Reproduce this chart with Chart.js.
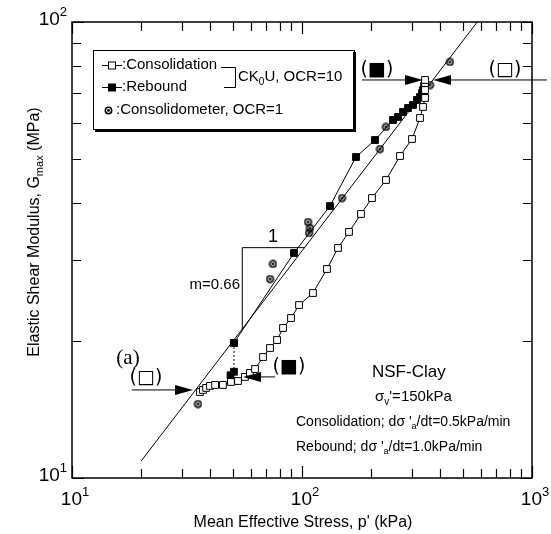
<!DOCTYPE html>
<html>
<head>
<meta charset="utf-8">
<script src="https://cdn.jsdelivr.net/npm/chart.js@4.4.1/dist/chart.umd.min.js"></script>
<style>
  html, body { margin: 0; padding: 0; background: #fff; }
</style>
</head>
<body>
<canvas id="gmaxChart" width="551" height="534"></canvas>
<script>
// ── data (p' in kPa, Gmax in MPa) ──────────────────────────────────────────
const consP = [36.0, 37.1, 38.3, 39.8, 41.9, 45.3, 49.1, 52.7, 56.5, 59.4, 62.5, 67.7, 72.6, 77.9, 82.7, 89.6, 97.1,
               111.6, 128.4, 143.4, 160.1, 180.5, 201.5, 231.8, 266.8, 300.8, 325.9, 335.9, 342.7, 342.7, 342.7, 342.7];
const consG = [15.44, 15.60, 15.76, 15.92, 16.0, 16.0, 16.24, 16.32, 16.66, 17.0, 17.34, 18.42, 19.28, 20.07, 21.33, 22.43, 23.95,
               25.45, 28.73, 31.95, 34.64, 37.93, 41.11, 45.03, 50.83, 55.39, 61.59, 65.11, 68.14, 70.93, 73.49, 74.62];

const rebP = [342.7, 339.3, 335.9, 332.5, 325.9, 316.2, 303.8, 289.0, 274.9, 261.5, 248.7, 207.7, 171.7, 132.3, 92.3, 50.6];
const rebG = [73.86, 72.38, 70.93, 69.89, 68.48, 67.45, 65.77, 64.77, 63.48, 61.91, 60.97, 55.11, 50.57, 39.49, 31.15, 19.78];

const rebTailP = [50.6, 50.6, 48.9];
const rebTailG = [19.78, 17.1, 16.8];

const meterP = [35.3, 72.6, 74.8, 106.2, 108.3, 107.3, 149.3, 218.3, 231.8, 360.2, 440.0];
const meterG = [14.53, 27.31, 29.47, 36.42, 35.33, 34.46, 41.11, 52.66, 58.86, 72.75, 81.73];

// fitted line, slope m = 0.66, and its slope triangle
const fitP = [20, 578];
const fitG = [10.9, 100];
const slopeP = [55, 55, 103];
const slopeG = [21.2, 32, 32];

// axes
const xTicks = [10, 20, 30, 40, 50, 60, 70, 80, 90, 100, 200, 300, 400, 500, 600, 700, 800, 900, 1000];
const yTicks = [10, 20, 30, 40, 50, 60, 70, 80, 90, 100];
const xDecades = [10, 100, 1000];
const xExp = ['1', '2', '3'];
const yDecades = [10, 100];
const yExp = ['1', '2'];

// arrows: [tailP, tipP, G]
const ARROWS = [
  [18.2, 33.6, 15.6],
  [182.4, 335.9, 74.62],
  [1161, 371.2, 74.62],
  [76.3, 55.4, 16.66],
];

const FONT = '"Liberation Sans", Arial, sans-serif';

// ── helpers ────────────────────────────────────────────────────────────────
function pts(P, G) {
  return P.map((p, i) => ({ x: p, y: G[i] }));
}

function makeRing(size) {
  const c = document.createElement('canvas');
  c.width = c.height = size;
  const g = c.getContext('2d');
  g.strokeStyle = '#000';
  g.lineWidth = 1.5;
  g.beginPath(); g.arc(size / 2, size / 2, size / 2 - 1.3, 0, Math.PI * 2); g.stroke();
  g.fillStyle = '#000';
  g.beginPath(); g.arc(size / 2, size / 2, 1.4, 0, Math.PI * 2); g.fill();
  return c;
}
const RING = makeRing(9);

// draw text made of segments: [text, 'n' | 'sub' | 'sup']
function rich(ctx, segs, x, y, size, align, family) {
  family = family || FONT;
  const parts = segs.map(([t, m]) => {
    const s = m === 'n' ? size : Math.round(size * 0.66);
    ctx.font = s + 'px ' + family;
    return { t, m, s, w: ctx.measureText(t).width };
  });
  const total = parts.reduce((a, p) => a + p.w, 0);
  let cx = align === 'center' ? x - total / 2 : align === 'right' ? x - total : x;
  ctx.textAlign = 'left';
  ctx.textBaseline = 'middle';
  parts.forEach(p => {
    ctx.font = p.s + 'px ' + family;
    const dy = p.m === 'sub' ? size * 0.32 : p.m === 'sup' ? -size * 0.42 : 0;
    ctx.fillText(p.t, cx, y + dy);
    cx += p.w;
  });
}

function arrow(ctx, x1, y1, x2, y2) {
  const a = Math.atan2(y2 - y1, x2 - x1);
  const L = 18, W = 5;
  ctx.beginPath();
  ctx.moveTo(x1, y1);
  ctx.lineTo(x2 - L * Math.cos(a), y2 - L * Math.sin(a));
  ctx.stroke();
  ctx.beginPath();
  ctx.moveTo(x2, y2);
  ctx.lineTo(x2 - L * Math.cos(a) + W * Math.sin(a), y2 - L * Math.sin(a) - W * Math.cos(a));
  ctx.lineTo(x2 - L * Math.cos(a) - W * Math.sin(a), y2 - L * Math.sin(a) + W * Math.cos(a));
  ctx.closePath();
  ctx.fill();
}

// ── frame, ticks, labels, annotations ──────────────────────────────────────
const decorPlugin = {
  id: 'decor',
  afterDraw(chart) {
    const ctx = chart.ctx;
    const { left, right, top, bottom } = chart.chartArea;
    const xs = chart.scales.x, ys = chart.scales.y;
    ctx.save();
    ctx.strokeStyle = '#000';
    ctx.fillStyle = '#000';

    // frame
    ctx.lineWidth = 1.5;
    ctx.strokeRect(left, top, right - left, bottom - top);

    // inward ticks on all four sides
    ctx.lineWidth = 1.2;
    ctx.beginPath();
    xTicks.forEach(v => {
      const x = Math.round(xs.getPixelForValue(v)) + 0.5;
      const len = xDecades.includes(v) ? 12 : 9;
      ctx.moveTo(x, bottom); ctx.lineTo(x, bottom - len);
      ctx.moveTo(x, top); ctx.lineTo(x, top + len);
    });
    yTicks.forEach(v => {
      const y = Math.round(ys.getPixelForValue(v)) + 0.5;
      const len = yDecades.includes(v) ? 12 : 9;
      ctx.moveTo(left, y); ctx.lineTo(left + len, y);
      ctx.moveTo(right, y); ctx.lineTo(right - len, y);
    });
    ctx.stroke();

    // tick labels
    xDecades.forEach((v, i) => {
      rich(ctx, [['10', 'n'], [xExp[i], 'sup']], xs.getPixelForValue(v) + 3, bottom + 22, 19, 'center');
    });
    yDecades.forEach((v, i) => {
      rich(ctx, [['10', 'n'], [yExp[i], 'sup']], left - 5, ys.getPixelForValue(v) - 2, 19, 'right');
    });

    // axis titles
    rich(ctx, [["Mean Effective Stress, p' (kPa)", 'n']], 303, 523, 16, 'center');
    ctx.save();
    ctx.translate(35, 232);
    ctx.rotate(-Math.PI / 2);
    rich(ctx, [['Elastic Shear Modulus, G', 'n'], ['max', 'sub'], [' (MPa)', 'n']], 0, 0, 16, 'center');
    ctx.restore();

    // arrows
    ctx.lineWidth = 1;
    ARROWS.forEach(([p1, p2, g]) => {
      const y = ys.getPixelForValue(g);
      arrow(ctx, xs.getPixelForValue(p1), y, xs.getPixelForValue(p2), y);
    });

    // arrow labels
    const sym = '"DejaVu Sans", sans-serif';
    rich(ctx, [['(□)', 'n']], 146, 378, 19, 'center', sym);
    rich(ctx, [['(■)', 'n']], 377, 70, 19, 'center', sym);
    rich(ctx, [['(□)', 'n']], 505, 70, 19, 'center', sym);
    rich(ctx, [['(■)', 'n']], 289, 367, 19, 'center', sym);
    rich(ctx, [['(a)', 'n']], 128, 358, 21, 'center', '"Liberation Serif", "Times New Roman", serif');

    // slope labels
    rich(ctx, [['1', 'n']], 273, 237, 18, 'center');
    rich(ctx, [['m=0.66', 'n']], 240, 285, 15, 'right');

    // test conditions
    rich(ctx, [['NSF-Clay', 'n']], 372, 372, 17, 'left');
    rich(ctx, [['σ', 'n'], ['v', 'sub'], ["'=150kPa", 'n']], 375, 397, 15, 'left');
    rich(ctx, [['Consolidation; d', 'n'], ['σ', 'n'], [" '", 'n'], ['a', 'sub'], ['/dt=0.5kPa/min', 'n']], 296, 422, 14, 'left');
    rich(ctx, [['Rebound; d', 'n'], ['σ', 'n'], [" '", 'n'], ['a', 'sub'], ['/dt=1.0kPa/min', 'n']], 296, 447, 14, 'left');

    // legend box with drop shadow
    ctx.fillStyle = '#fff';
    ctx.fillRect(93, 50, 262, 80);
    ctx.fillStyle = '#000';
    ctx.fillRect(353, 52, 3, 80);
    ctx.fillRect(95, 129, 261, 3);
    ctx.lineWidth = 1;
    ctx.strokeRect(93.5, 50.5, 261, 79);

    // legend entries
    ctx.beginPath();
    ctx.moveTo(102, 65.5); ctx.lineTo(122, 65.5);
    ctx.moveTo(102, 87.5); ctx.lineTo(122, 87.5);
    ctx.stroke();
    ctx.fillStyle = '#fff';
    ctx.fillRect(108.5, 62, 7, 7);
    ctx.strokeRect(108.5, 62, 7, 7);
    ctx.fillStyle = '#000';
    ctx.fillRect(108, 83.5, 8, 8);
    ctx.drawImage(RING, 104, 106);
    rich(ctx, [[':Consolidation', 'n']], 122, 65, 15, 'left');
    rich(ctx, [[':Rebound', 'n']], 122, 87, 15, 'left');
    rich(ctx, [[':Consolidometer, OCR=1', 'n']], 116, 110, 15, 'left');

    // bracket for CK0U
    ctx.beginPath();
    ctx.moveTo(221, 67.5); ctx.lineTo(235.5, 67.5); ctx.lineTo(235.5, 87.5); ctx.lineTo(224, 87.5);
    ctx.stroke();
    rich(ctx, [['CK', 'n'], ['0', 'sub'], ['U, OCR=10', 'n']], 238, 77, 15, 'left');

    ctx.restore();
  }
};

// ── chart ──────────────────────────────────────────────────────────────────
const ctx = document.getElementById('gmaxChart').getContext('2d');
new Chart(ctx, {
  type: 'scatter',
  data: {
    datasets: [
      {
        label: 'Consolidation',
        data: pts(consP, consG),
        showLine: true,
        borderColor: '#000',
        borderWidth: 1,
        pointStyle: 'rect',
        pointRadius: 4.8,
        pointBackgroundColor: '#fff',
        pointBorderColor: '#000',
        pointBorderWidth: 1,
      },
      {
        label: 'Rebound',
        data: pts(rebP, rebG),
        showLine: true,
        borderColor: '#000',
        borderWidth: 1,
        pointStyle: 'rect',
        pointRadius: 4.8,
        pointBackgroundColor: '#000',
        pointBorderColor: '#000',
        pointBorderWidth: 1,
      },
      {
        label: 'Rebound (end)',
        data: pts(rebTailP, rebTailG),
        showLine: true,
        borderColor: '#000',
        borderWidth: 1,
        borderDash: [2, 2],
        pointStyle: 'rect',
        pointRadius: 4.8,
        pointBackgroundColor: '#000',
        pointBorderColor: '#000',
      },
      {
        label: 'Consolidometer, OCR=1',
        data: pts(meterP, meterG),
        showLine: false,
        pointStyle: RING,
      },
      {
        label: 'slope',
        data: pts(slopeP, slopeG),
        showLine: true,
        borderColor: '#000',
        borderWidth: 1,
        pointRadius: 0,
      },
      {
        label: 'fit',
        data: pts(fitP, fitG),
        showLine: true,
        borderColor: '#000',
        borderWidth: 1,
        pointRadius: 0,
      },
    ],
  },
  options: {
    responsive: false,
    animation: false,
    layout: { padding: { left: 72, right: 19, top: 22, bottom: 56 } },
    plugins: { legend: { display: false }, tooltip: { enabled: false } },
    scales: {
      x: { type: 'logarithmic', min: 10, max: 1000, display: false },
      y: { type: 'logarithmic', min: 10, max: 100, display: false },
    },
  },
  plugins: [decorPlugin],
});
</script>
</body>
</html>
